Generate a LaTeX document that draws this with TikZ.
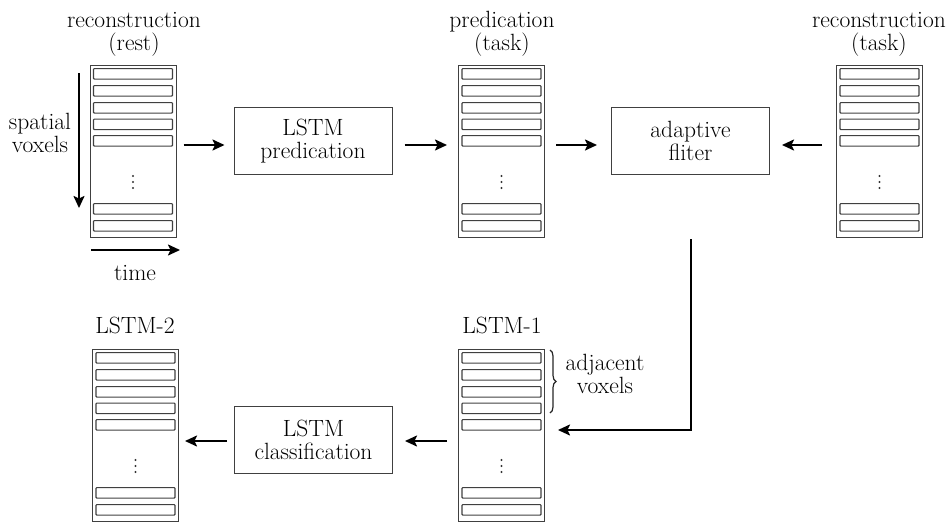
\documentclass[tikz,border=0pt]{standalone}
\usetikzlibrary{arrows.meta,decorations.pathreplacing,calc}
\tikzset{
  colbox/.style={draw=black!75, line width=1pt, minimum width=86pt, minimum height=172pt, inner sep=0pt, anchor=north},
  strip/.style={draw=black!75, line width=1.1pt, minimum width=79pt, minimum height=10.5pt, inner sep=0pt, anchor=north, rounded corners=0.8pt},
  procbox/.style={draw=black!75, line width=1pt, minimum width=158pt, minimum height=67pt, align=center, inner sep=0pt},
  lab/.style={align=center, inner sep=0pt, anchor=base},
  arr/.style={line width=2pt, -{Stealth[length=12pt,width=11pt,inset=2.5pt]}},
  bracestyle/.style={decorate, decoration={brace, amplitude=6pt}, line width=1.2pt, black!85},
}
\newcommand\voxcol[3]{%
  \node[colbox] (#1) at (#2,#3) {};
  \foreach \t [count=\i] in {3,20,37,53.5,70,138,155} {\node[strip] (#1s\i) at (#2,#3+\t) {};}
  \foreach \t in {111,117,123} {\fill[black!80] (#2,#3+\t) circle (1.2pt);}
}
\begin{document}
\begin{tikzpicture}[x=1pt,y=-1pt,font=\fontsize{23.5}{23}\selectfont]
\useasboundingbox (0,0) rectangle (949,523);
% columns
\voxcol{c1}{133}{65}
\voxcol{c2}{501.5}{65}
\voxcol{c3}{879.5}{65}
\voxcol{c4}{501.5}{349}
\voxcol{c5}{135.5}{349}
% labels (anchor base = baseline of last line)
\node[lab] (t1) at (134,50) {reconstruction\\(rest)};
\node[lab] (t2) at (502,50) {predication\\(task)};
\node[lab] (t3) at (879,50) {reconstruction\\(task)};
\node[lab] (t4) at (135,333) {LSTM-2};
\node[lab] (t5) at (502,333) {LSTM-1};
\node[lab] (t6) at (40,152) {spatial\\voxels};
\node[lab] (t7) at (135,280) {time};
\node[lab] (t8) at (605,393) {adjacent\\voxels};
% process boxes
\node[procbox] (b1) at (313,141) {LSTM\\predication};
\node[procbox] (b2) at (690.5,141) {adaptive\\fliter};
\node[procbox] (b3) at (313.5,439.5) {LSTM\\classification};
% rows
\coordinate (rA) at (0,145);
\coordinate (rB) at (0,441);
\coordinate (rC) at (0,430);
% connectors
\draw[arr,shorten <=7pt,shorten >=9pt] (c1.east |- rA) -- (b1.west |- rA);
\draw[arr,shorten <=12pt,shorten >=11pt] (b1.east |- rA) -- (c2.west |- rA);
\draw[arr,shorten <=11pt,shorten >=14pt] (c2.east |- rA) -- (b2.west |- rA);
\draw[arr,shorten <=14pt,shorten >=12pt] (c3.west |- rA) -- (b2.east |- rA);
\draw[arr,shorten <=64pt,shorten >=13pt] (b2.south) |- (c4.east |- rC);
\draw[arr,shorten <=11pt,shorten >=12pt] (c4.west |- rB) -- (b3.east |- rB);
\draw[arr,shorten <=7pt,shorten >=6pt] (b3.west |- rB) -- (c5.east |- rB);
% axes
\coordinate (sv1) at (79,73);
\coordinate (sv2) at (79,208);
\draw[arr] (sv1) -- (sv2);
\coordinate (tm1) at (91,250);
\coordinate (tm2) at (180,250);
\draw[arr] (tm1) -- (tm2);
% brace
\coordinate (br1) at (550,350);
\coordinate (br2) at (550,413);
\draw[bracestyle] (br1) -- (br2);
\end{tikzpicture}
\end{document}
